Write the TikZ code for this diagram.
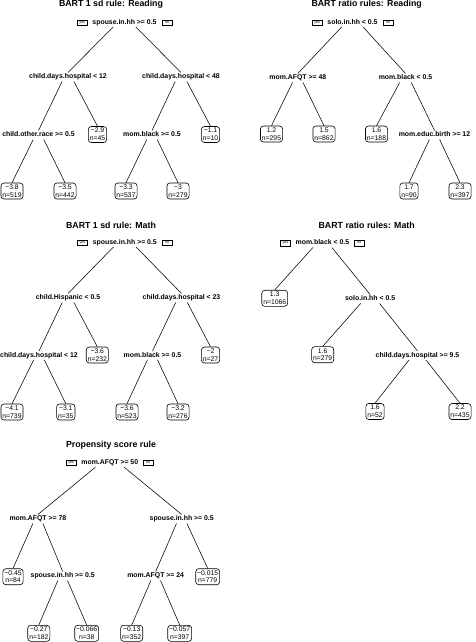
\documentclass[tikz,border=0pt]{standalone}
\usepackage{fontspec}
\setmainfont{Liberation Sans}
\usetikzlibrary{positioning}

\begin{document}
\begin{tikzpicture}[x=1pt,y=-1pt,
    heading/.style={font=\fontsize{8.8}{10}\selectfont\bfseries, inner sep=0pt},
    split/.style={font=\fontsize{6.9}{7.8}\selectfont\bfseries, inner xsep=0.4pt, inner ysep=1.2pt, text height=4.9pt, text depth=1.3pt},
    leaf/.style={draw, rounded corners=3pt, align=center, inner xsep=1.5pt, inner ysep=1.7pt, line width=0.6pt, font=\fontsize{6.8}{7.8}\selectfont},
    yesno/.style={draw, line width=0.4pt, inner sep=0pt, minimum width=10pt, minimum height=5.5pt, font=\fontsize{3.6}{4}\selectfont},
    branch/.style={line width=0.55pt}]
        \useasboundingbox (0,0) rectangle (475,642);

        % BART 1 sd rule: Reading
        \node[heading] (ta) at (111,4.5) {BART 1 sd rule: Reading};
        \node[split] (a1) at (124.5,22.5) {spouse.in.hh >= 0.5};
        \node[yesno, left=4.5pt of a1] (ay) {yes};
        \node[yesno, right=4.5pt of a1] (an) {no};
        \node[split] (a2) at (68,77) {child.days.hospital < 12};
        \node[split] (a3) at (181,77) {child.days.hospital < 48};
        \node[split] (a4) at (38.5,135) {child.other.race >= 0.5};
        \node[leaf] (a5) at (97.5,134.5) {−2.9\\n=45};
        \node[split] (a6) at (152,135) {mom.black >= 0.5};
        \node[leaf] (a7) at (210.5,134.5) {−1.1\\n=10};
        \node[leaf] (a8) at (12,191) {−3.8\\n=519};
        \node[leaf] (a9) at (65,191) {−3.5\\n=442};
        \node[leaf] (a10) at (126,191) {−3.3\\n=537};
        \node[leaf] (a11) at (178,191) {−3\\n=279};

        \draw[branch] ([xshift=-11.3pt]a1.south) -- (a2.north);
        \draw[branch] ([xshift=11.3pt]a1.south) -- (a3.north);
        \draw[branch] ([xshift=-5.9pt]a2.south) -- (a4.north);
        \draw[branch] ([xshift=5.9pt]a2.south) -- (a5.north);
        \draw[branch] ([xshift=-5.8pt]a3.south) -- (a6.north);
        \draw[branch] ([xshift=5.9pt]a3.south) -- (a7.north);
        \draw[branch] ([xshift=-5.3pt]a4.south) -- (a8.north);
        \draw[branch] ([xshift=5.3pt]a4.south) -- (a9.north);
        \draw[branch] ([xshift=-5.2pt]a6.south) -- (a10.north);
        \draw[branch] ([xshift=5.2pt]a6.south) -- (a11.north);

        % BART ratio rules: Reading
        \node[heading] (tb) at (366.7,4.5) {BART ratio rules: Reading};
        \node[split] (b1) at (352.5,22.5) {solo.in.hh < 0.5};
        \node[yesno, left=4.5pt of b1] (by) {yes};
        \node[yesno, right=4.5pt of b1] (bn) {no};
        \node[split] (b2) at (297.8,78) {mom.AFQT >= 48};
        \node[split] (b3) at (405.5,78) {mom.black < 0.5};
        \node[leaf] (b4) at (271.5,134) {1.2\\n=295};
        \node[leaf] (b5) at (324,134) {1.5\\n=862};
        \node[leaf] (b6) at (376.5,134) {1.6\\n=188};
        \node[split] (b7) at (434.5,135) {mom.educ.birth >= 12};
        \node[leaf] (b8) at (409,191) {1.7\\n=90};
        \node[leaf] (b9) at (460,191) {2.3\\n=397};

        \draw[branch] ([xshift=-10.9pt]b1.south) -- (b2.north);
        \draw[branch] ([xshift=10.6pt]b1.south) -- (b3.north);
        \draw[branch] ([xshift=-5.3pt]b2.south) -- (b4.north);
        \draw[branch] ([xshift=5.2pt]b2.south) -- (b5.north);
        \draw[branch] ([xshift=-5.8pt]b3.south) -- (b6.north);
        \draw[branch] ([xshift=5.8pt]b3.south) -- (b7.north);
        \draw[branch] ([xshift=-5.1pt]b7.south) -- (b8.north);
        \draw[branch] ([xshift=5.1pt]b7.south) -- (b9.north);

        % BART 1 sd rule: Math
        \node[heading] (tc) at (111,225) {BART 1 sd rule: Math};
        \node[split] (c1) at (124.8,242.5) {spouse.in.hh >= 0.5};
        \node[yesno, left=4.5pt of c1] (cy) {yes};
        \node[yesno, right=4.5pt of c1] (cn) {no};
        \node[split] (c2) at (68,298) {child.Hispanic < 0.5};
        \node[split] (c3) at (181.5,298) {child.days.hospital < 23};
        \node[split] (c4) at (39,355.5) {child.days.hospital < 12};
        \node[leaf] (c5) at (97.3,355) {−3.6\\n=232};
        \node[split] (c6) at (152.5,355.5) {mom.black >= 0.5};
        \node[leaf] (c7) at (210.5,355) {−2\\n=27};
        \node[leaf] (c8) at (12,412) {−4.1\\n=739};
        \node[leaf] (c9) at (65.8,412) {−3.1\\n=35};
        \node[leaf] (c10) at (127,412) {−3.6\\n=523};
        \node[leaf] (c11) at (178,412) {−3.2\\n=276};

        \draw[branch] ([xshift=-11.4pt]c1.south) -- (c2.north);
        \draw[branch] ([xshift=11.3pt]c1.south) -- (c3.north);
        \draw[branch] ([xshift=-5.8pt]c2.south) -- (c4.north);
        \draw[branch] ([xshift=5.9pt]c2.south) -- (c5.north);
        \draw[branch] ([xshift=-5.8pt]c3.south) -- (c6.north);
        \draw[branch] ([xshift=5.8pt]c3.south) -- (c7.north);
        \draw[branch] ([xshift=-5.4pt]c4.south) -- (c8.north);
        \draw[branch] ([xshift=5.4pt]c4.south) -- (c9.north);
        \draw[branch] ([xshift=-5.1pt]c6.south) -- (c10.north);
        \draw[branch] ([xshift=5.1pt]c6.south) -- (c11.north);

        % BART ratio rules: Math
        \node[heading] (td) at (366.7,225) {BART ratio rules: Math};
        \node[split] (d1) at (322.4,243) {mom.black < 0.5};
        \node[yesno, left=4.5pt of d1] (dy) {yes};
        \node[yesno, right=4.5pt of d1] (dn) {no};
        \node[leaf] (d2) at (274.7,298.3) {1.3\\n=1066};
        \node[split] (d3) at (370.1,299) {solo.in.hh < 0.5};
        \node[leaf] (d5) at (322.7,354.7) {1.6\\n=279};
        \node[split] (d4) at (417.5,355.5) {child.days.hospital >= 9.5};
        \node[leaf] (d6) at (375,411.5) {1.6\\n=52};
        \node[leaf] (d7) at (460,411.5) {2.2\\n=435};

        \draw[branch] ([xshift=-9.5pt]d1.south) -- (d2.north);
        \draw[branch] ([xshift=9.5pt]d1.south) -- (d3.north);
        \draw[branch] ([xshift=-9.5pt]d3.south) -- (d5.north);
        \draw[branch] ([xshift=9.5pt]d3.south) -- (d4.north);
        \draw[branch] ([xshift=-8.5pt]d4.south) -- (d6.north);
        \draw[branch] ([xshift=8.5pt]d4.south) -- (d7.north);

        % Propensity score rule
        \node[heading] (te) at (111,445) {Propensity score rule};
        \node[split] (e1) at (109.8,462.7) {mom.AFQT >= 50};
        \node[yesno, left=4.5pt of e1] (ey) {yes};
        \node[yesno, right=4.5pt of e1] (en) {no};
        \node[split] (e2) at (37.9,519) {mom.AFQT >= 78};
        \node[split] (e3) at (181.7,519) {spouse.in.hh >= 0.5};
        \node[leaf] (e4) at (13,576.7) {−0.45\\n=84};
        \node[split] (e5) at (62.7,576) {spouse.in.hh >= 0.5};
        \node[split] (e6) at (155.7,576) {mom.AFQT >= 24};
        \node[leaf] (e7) at (207.7,576.7) {−0.015\\n=779};
        \node[leaf] (e8) at (38.8,633.3) {−0.27\\n=182};
        \node[leaf] (e9) at (86.7,633.3) {−0.066\\n=38};
        \node[leaf] (e10) at (131.7,633.3) {−0.13\\n=352};
        \node[leaf] (e11) at (179.7,633.3) {−0.057\\n=397};

        \draw[branch] ([xshift=-14.4pt]e1.south) -- (e2.north);
        \draw[branch] ([xshift=14.4pt]e1.south) -- (e3.north);
        \draw[branch] ([xshift=-5pt]e2.south) -- (e4.north);
        \draw[branch] ([xshift=5pt]e2.south) -- (e5.north);
        \draw[branch] ([xshift=-5.2pt]e3.south) -- (e6.north);
        \draw[branch] ([xshift=5.2pt]e3.south) -- (e7.north);
        \draw[branch] ([xshift=-4.8pt]e5.south) -- (e8.north);
        \draw[branch] ([xshift=4.8pt]e5.south) -- (e9.north);
        \draw[branch] ([xshift=-4.8pt]e6.south) -- (e10.north);
        \draw[branch] ([xshift=4.8pt]e6.south) -- (e11.north);
    \end{tikzpicture}
\end{document}
